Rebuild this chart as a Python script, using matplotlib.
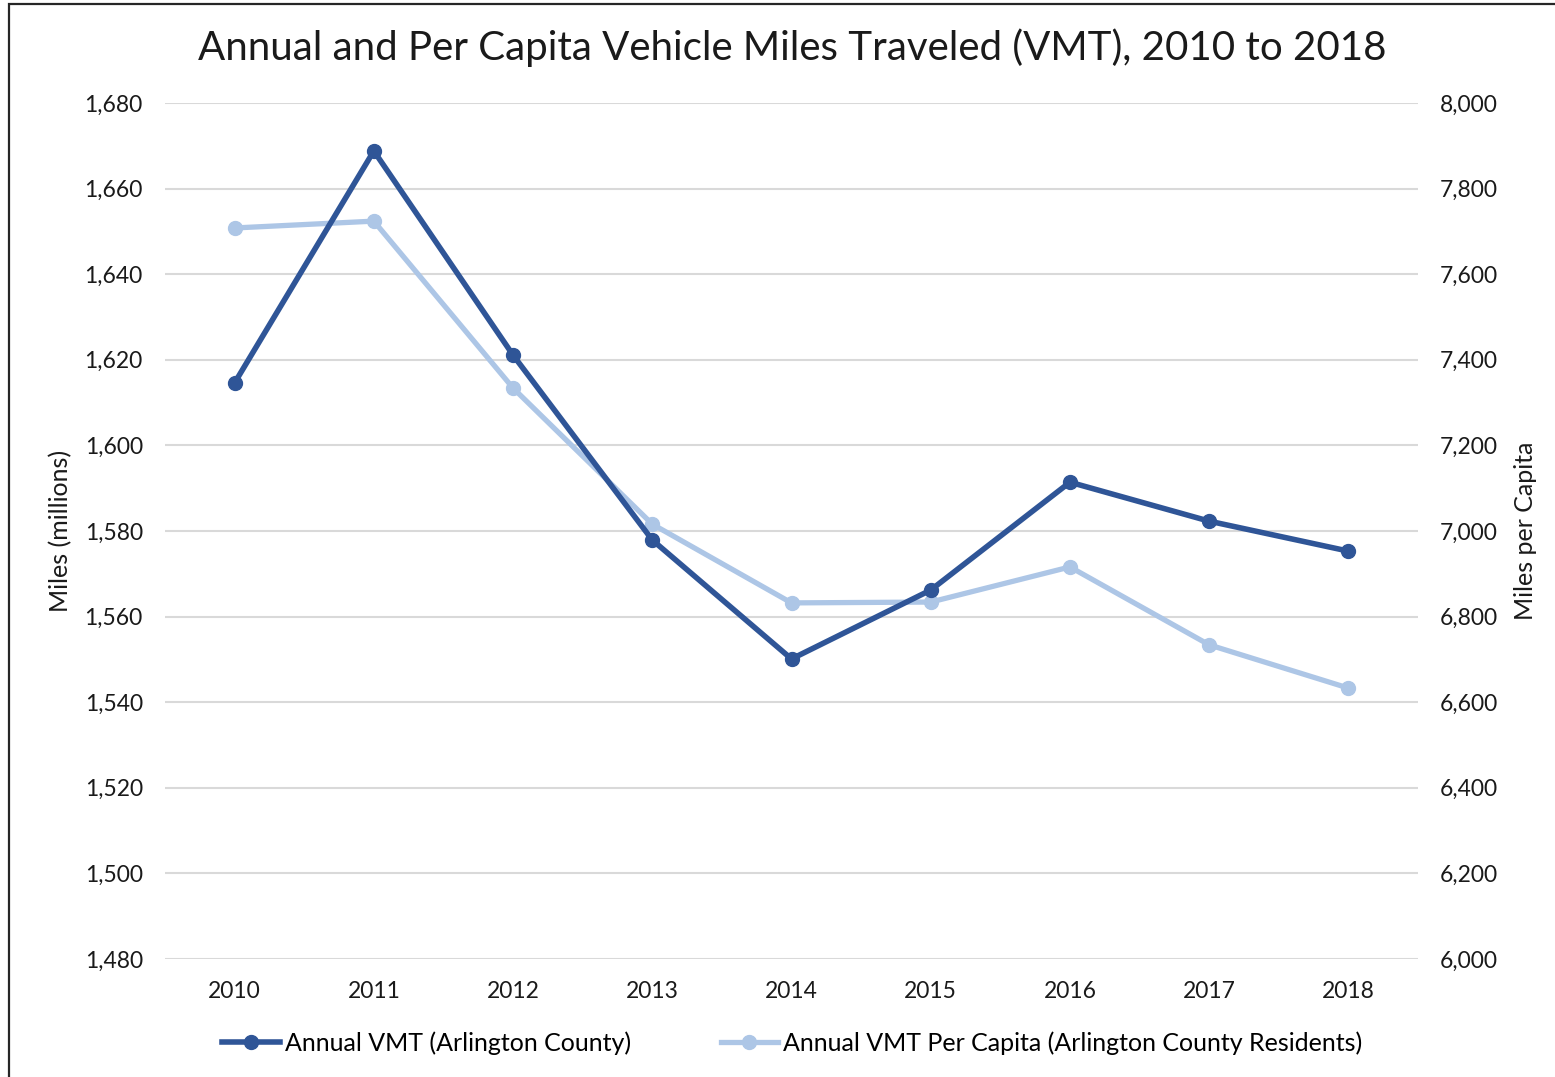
import matplotlib
matplotlib.use("Agg")
import matplotlib.pyplot as plt
from matplotlib.ticker import FuncFormatter, MultipleLocator
from matplotlib.lines import Line2D
from matplotlib.patches import Rectangle

plt.rcParams['font.family'] = ['Lato', 'DejaVu Sans']

#
# data
#
years = ['2010', '2011', '2012', '2013', '2014', '2015', '2016', '2017', '2018']
annual_vmt = [1614.6, 1668.8, 1621.1, 1577.9, 1550.1, 1566.2, 1591.4, 1582.3, 1575.3]
per_capita_vmt = [7708, 7724, 7334, 7016, 6832, 6834, 6916, 6734, 6633]

dark = '#2F5597'
light = '#ADC6E6'
grid = '#D9D9D9'
text = '#1A1A1A'

fig = plt.figure(figsize=(15.55, 10.77), dpi=100)
ax = fig.add_axes([165 / 1555, 1 - 959 / 1077, (1418 - 165) / 1555, (959 - 103) / 1077])
ax2 = ax.twinx()

# chart border (left and top edges visible)
fig.patches.append(Rectangle((9 / 1555, -0.1), 1.2, 1 - 4 / 1077 + 0.1,
                             transform=fig.transFigure, fill=False,
                             edgecolor='#262626', linewidth=1.6))

x = range(len(years))
ax.plot(x, annual_vmt, color=dark, lw=4.0, marker='o', ms=10, zorder=3)
ax2.plot(x, per_capita_vmt, color=light, lw=3.8, marker='o', ms=10, zorder=3)
ax.set_zorder(ax2.get_zorder() + 1)
ax.patch.set_visible(False)

ax.set_xlim(-0.5, len(years) - 0.5)
ax.set_ylim(1480, 1680)
ax2.set_ylim(6000, 8000)
ax.yaxis.set_major_locator(MultipleLocator(20))
ax2.yaxis.set_major_locator(MultipleLocator(200))
fmt = FuncFormatter(lambda v, p: '{:,.0f}'.format(v))
ax.yaxis.set_major_formatter(fmt)
ax2.yaxis.set_major_formatter(fmt)
ax.set_xticks(list(x))
ax.set_xticklabels(years)

ax2.grid(axis='y', color=grid, lw=1.5)
ax2.set_axisbelow(True)
for a in (ax, ax2):
    for s in a.spines.values():
        s.set_visible(False)
    a.tick_params(length=0, labelsize=16.5, colors=text)
ax.tick_params(axis='y', pad=16)
ax2.tick_params(axis='y', pad=16)
ax.tick_params(axis='x', pad=16)

ax.set_ylabel('Miles (millions)', fontsize=18, color=text, labelpad=9)
ax2.set_ylabel('Miles per Capita', fontsize=18, color=text, labelpad=11)

fig.text(0.5095, 1 - 48 / 1077, 'Annual and Per Capita Vehicle Miles Traveled (VMT), 2010 to 2018',
         ha='center', va='center', fontsize=29, color=text)

handles = [Line2D([], [], color=dark, lw=4.0, marker='o', ms=10),
           Line2D([], [], color=light, lw=3.8, marker='o', ms=10)]
labels = ['Annual VMT (Arlington County)', 'Annual VMT Per Capita (Arlington County Residents)']
fig.legend(handles, labels, loc='center', bbox_to_anchor=(0.5095, 1 - 1043 / 1077),
           ncol=2, frameon=False, fontsize=18, handlelength=2.3, handletextpad=0.2,
           columnspacing=3.6)

fig.savefig('out.png', dpi=100, facecolor='white')
